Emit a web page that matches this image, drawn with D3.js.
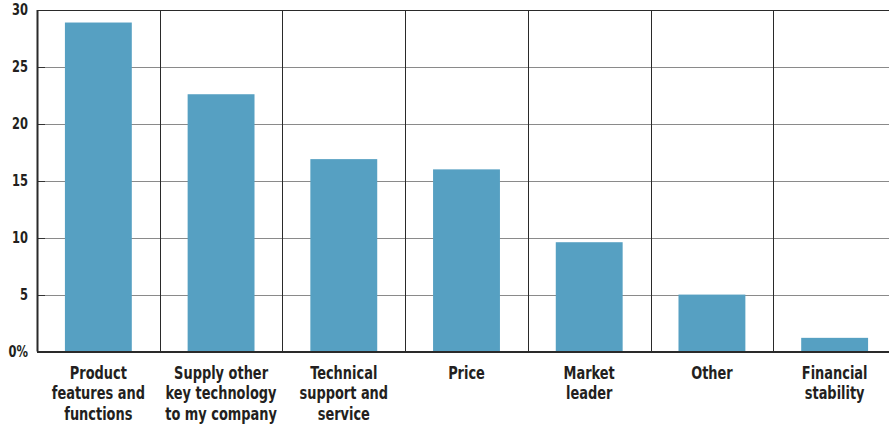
<!DOCTYPE html>
<html>
<head>
<meta charset="utf-8">
<script src="https://cdn.jsdelivr.net/npm/d3@7"></script>
<style>
  html, body { margin: 0; padding: 0; background: #fff; }
  svg { display: block; }
  text { font-family: "DejaVu Sans", sans-serif; font-stretch: condensed; font-weight: bold; fill: #231f20; }
</style>
</head>
<body>
<svg id="chart" width="889" height="425"></svg>
<script>
// Reasons for choosing a vendor (percent of respondents)
const categories = [
  ["Product", "features and", "functions"],
  ["Supply other", "key technology", "to my company"],
  ["Technical", "support and", "service"],
  ["Price"],
  ["Market", "leader"],
  ["Other"],
  ["Financial", "stability"]
];
const values = [28.9, 22.6, 16.9, 16.0, 9.6, 5.0, 1.2];
const yTicks = [0, 5, 10, 15, 20, 25, 30];
const yTickLabels = ["0%", "5", "10", "15", "20", "25", "30"];

const svg = d3.select("#chart");
const margin = { left: 37, top: 10, bottom: 73 };
const height = 425;
const plotRight = 896;

const x = d3.scaleBand()
  .domain(d3.range(categories.length))
  .range([margin.left, plotRight])
  .paddingInner(0.455)
  .paddingOuter(0.2275);

const y = d3.scaleLinear()
  .domain([0, 30])
  .range([height - margin.bottom - 0.5, margin.top]);

const step = x.step();

// horizontal gridlines
svg.append("g")
  .selectAll("line")
  .data(yTicks.filter(d => d > 0 && d < 30))
  .join("line")
  .attr("x1", margin.left)
  .attr("x2", plotRight)
  .attr("y1", d => Math.round(y(d)) + 0.5)
  .attr("y2", d => Math.round(y(d)) + 0.5)
  .attr("stroke", "#8a8a8a")
  .attr("stroke-width", 1);

// short dark ticks at axis
svg.append("g")
  .selectAll("line")
  .data(yTicks)
  .join("line")
  .attr("x1", margin.left)
  .attr("x2", margin.left + 8)
  .attr("y1", d => Math.round(y(d)) + 0.5)
  .attr("y2", d => Math.round(y(d)) + 0.5)
  .attr("stroke", "#333")
  .attr("stroke-width", 1);

// bars
svg.append("g")
  .selectAll("rect")
  .data(values)
  .join("rect")
  .attr("x", (d, i) => x(i))
  .attr("width", x.bandwidth())
  .attr("y", d => y(d))
  .attr("height", d => y(0) - y(d))
  .attr("fill", "#56a0c2");

// vertical category separators
const bounds = d3.range(categories.length + 1).map(i => margin.left + i * step);
svg.append("g")
  .selectAll("line")
  .data(bounds)
  .join("line")
  .attr("x1", d => Math.round(d) + 0.5)
  .attr("x2", d => Math.round(d) + 0.5)
  .attr("y1", y(30))
  .attr("y2", y(0))
  .attr("stroke", "#2a2a2a")
  .attr("stroke-width", (d, i) => i === 0 ? 2 : 1);

// top and baseline
svg.append("line")
  .attr("x1", margin.left).attr("x2", plotRight)
  .attr("y1", Math.round(y(30)) + 0.5).attr("y2", Math.round(y(30)) + 0.5)
  .attr("stroke", "#2a2a2a").attr("stroke-width", 1);
svg.append("line")
  .attr("x1", margin.left).attr("x2", plotRight)
  .attr("y1", Math.round(y(0))).attr("y2", Math.round(y(0)))
  .attr("stroke", "#2a2a2a").attr("stroke-width", 2);

// y tick labels
svg.append("g")
  .selectAll("text")
  .data(yTicks)
  .join("text")
  .attr("transform", d => `translate(28,${y(d) + 5}) scale(0.85,1)`)
  .attr("text-anchor", "end")
  .style("font-size", "15px")
  .text((d, i) => yTickLabels[i]);

// category labels
const lab = svg.append("g")
  .selectAll("text")
  .data(categories)
  .join("text")
  .attr("transform", (d, i) => `translate(${x(i) + x.bandwidth() / 2},378.5) scale(0.8,1)`)
  .attr("text-anchor", "middle")
  .style("font-size", "18px");
lab.selectAll("tspan")
  .data(d => d)
  .join("tspan")
  .attr("x", 0)
  .attr("dy", (d, i) => i === 0 ? 0 : 21)
  .text(d => d);
</script>
</body>
</html>
